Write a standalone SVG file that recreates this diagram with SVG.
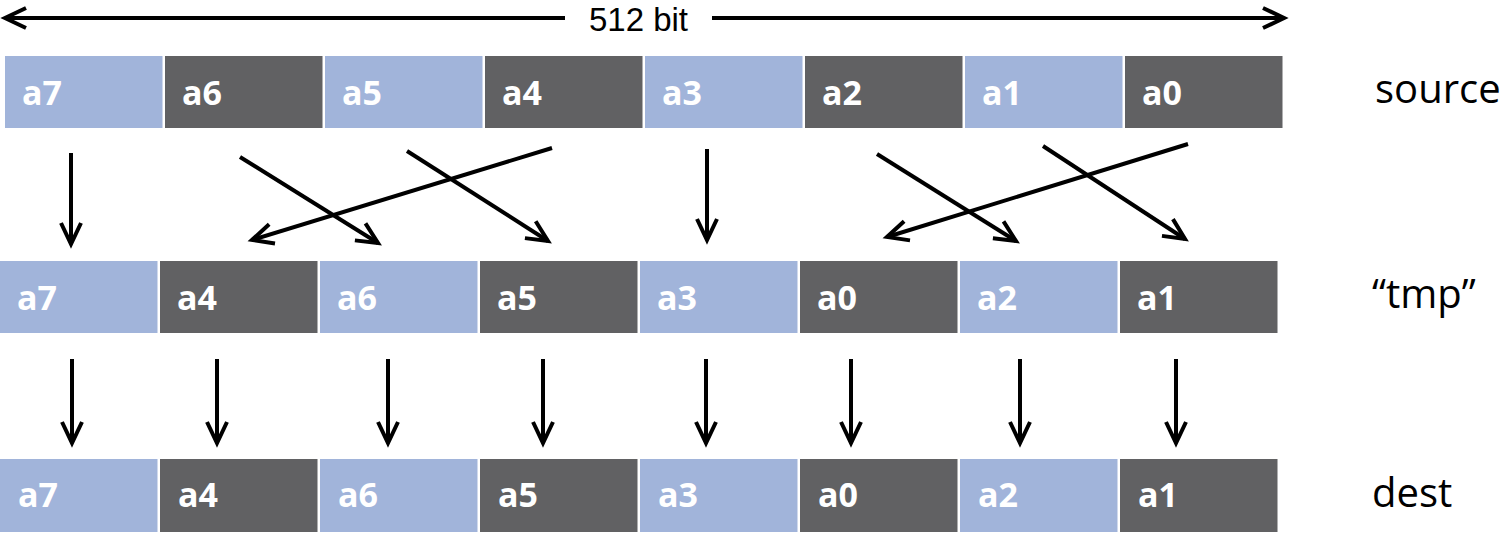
<svg xmlns="http://www.w3.org/2000/svg" width="1505" height="533" viewBox="0 0 1505 533">
  <style>
    .lt { fill: #A1B4DA; }
    .dk { fill: #616163; }
    .cell-label { font-family: "Open Sans", "Liberation Sans", sans-serif; font-weight: bold; font-size: 34px; fill: #FFFFFF; }
    .row-label { font-family: "Open Sans", "Liberation Sans", sans-serif; font-size: 40px; fill: #000000; }
    .width-label { font-family: "Liberation Sans", "Open Sans", sans-serif; font-size: 33px; fill: #000000; }
    .conn line { stroke: #000000; stroke-width: 4; fill: none; marker-end: url(#ah); }
  </style>
  <defs>
    <!-- open chevron arrowhead -->
    <marker id="ah" markerUnits="userSpaceOnUse" viewBox="-25 -13 28 26" markerWidth="28" markerHeight="26" refX="0" refY="0" orient="auto" overflow="visible">
      <path d="M-21,-10 L0,0 L-21,10" fill="none" stroke="#000000" stroke-width="4" stroke-linejoin="miter"/>
    </marker>
  </defs>

  <rect x="0" y="0" width="1505" height="533" fill="#FFFFFF"/>

  <!-- register width indicator -->
  <g id="width-indicator" class="conn">
    <line x1="565" y1="18" x2="5" y2="18"/>
    <line x1="712" y1="18" x2="1284" y2="18"/>
    <text class="width-label" x="638.5" y="30.5" text-anchor="middle">512 bit</text>
  </g>

  <!-- source register -->
  <g id="source">
    <g id="src-a7"><rect class="lt" x="5" y="56" width="157.5" height="72"/><text class="cell-label" x="22" y="105">a7</text></g>
    <g id="src-a6"><rect class="dk" x="165" y="56" width="157.5" height="72"/><text class="cell-label" x="182" y="105">a6</text></g>
    <g id="src-a5"><rect class="lt" x="325" y="56" width="157.5" height="72"/><text class="cell-label" x="342" y="105">a5</text></g>
    <g id="src-a4"><rect class="dk" x="485" y="56" width="157.5" height="72"/><text class="cell-label" x="502" y="105">a4</text></g>
    <g id="src-a3"><rect class="lt" x="645" y="56" width="157.5" height="72"/><text class="cell-label" x="662" y="105">a3</text></g>
    <g id="src-a2"><rect class="dk" x="805" y="56" width="157.5" height="72"/><text class="cell-label" x="822" y="105">a2</text></g>
    <g id="src-a1"><rect class="lt" x="965" y="56" width="157.5" height="72"/><text class="cell-label" x="982" y="105">a1</text></g>
    <g id="src-a0"><rect class="dk" x="1125" y="56" width="157.5" height="72"/><text class="cell-label" x="1142" y="105">a0</text></g>
    <text class="row-label" x="1375" y="103">source</text>
  </g>

  <!-- tmp register -->
  <g id="tmp">
    <g id="tmp-a7"><rect class="lt" x="0" y="261" width="157.5" height="72"/><text class="cell-label" x="17" y="310">a7</text></g>
    <g id="tmp-a4"><rect class="dk" x="160" y="261" width="157.5" height="72"/><text class="cell-label" x="177" y="310">a4</text></g>
    <g id="tmp-a6"><rect class="lt" x="320" y="261" width="157.5" height="72"/><text class="cell-label" x="337" y="310">a6</text></g>
    <g id="tmp-a5"><rect class="dk" x="480" y="261" width="157.5" height="72"/><text class="cell-label" x="497" y="310">a5</text></g>
    <g id="tmp-a3"><rect class="lt" x="640" y="261" width="157.5" height="72"/><text class="cell-label" x="657" y="310">a3</text></g>
    <g id="tmp-a0"><rect class="dk" x="800" y="261" width="157.5" height="72"/><text class="cell-label" x="817" y="310">a0</text></g>
    <g id="tmp-a2"><rect class="lt" x="960" y="261" width="157.5" height="72"/><text class="cell-label" x="977" y="310">a2</text></g>
    <g id="tmp-a1"><rect class="dk" x="1120" y="261" width="157.5" height="72"/><text class="cell-label" x="1137" y="310">a1</text></g>
    <text class="row-label" x="1372" y="308">“tmp”</text>
  </g>

  <!-- dest register -->
  <g id="dest">
    <g id="dst-a7"><rect class="lt" x="0" y="459" width="157.5" height="73"/><text class="cell-label" x="18" y="507">a7</text></g>
    <g id="dst-a4"><rect class="dk" x="160" y="459" width="157.5" height="73"/><text class="cell-label" x="178" y="507">a4</text></g>
    <g id="dst-a6"><rect class="lt" x="320" y="459" width="157.5" height="73"/><text class="cell-label" x="338" y="507">a6</text></g>
    <g id="dst-a5"><rect class="dk" x="480" y="459" width="157.5" height="73"/><text class="cell-label" x="498" y="507">a5</text></g>
    <g id="dst-a3"><rect class="lt" x="640" y="459" width="157.5" height="73"/><text class="cell-label" x="658" y="507">a3</text></g>
    <g id="dst-a0"><rect class="dk" x="800" y="459" width="157.5" height="73"/><text class="cell-label" x="818" y="507">a0</text></g>
    <g id="dst-a2"><rect class="lt" x="960" y="459" width="157.5" height="73"/><text class="cell-label" x="978" y="507">a2</text></g>
    <g id="dst-a1"><rect class="dk" x="1120" y="459" width="157.5" height="73"/><text class="cell-label" x="1138" y="507">a1</text></g>
    <text class="row-label" x="1372" y="507">dest</text>
  </g>

  <!-- connectors: source to tmp (lane shuffle) -->
  <g id="connectors" class="conn">
    <line x1="71" y1="153" x2="71" y2="244"/>
    <line x1="240" y1="157" x2="378" y2="243"/>
    <line x1="407" y1="151" x2="548" y2="241"/>
    <line x1="552" y1="148" x2="252" y2="240"/>
    <line x1="707" y1="149" x2="707" y2="240"/>
    <line x1="877" y1="154" x2="1016" y2="241"/>
    <line x1="1043" y1="146" x2="1185" y2="239"/>
    <line x1="1188" y1="144" x2="887" y2="237"/>

    <!-- tmp to dest (straight copy) -->
    <line x1="72" y1="359" x2="72" y2="443"/>
    <line x1="217" y1="359" x2="217" y2="443"/>
    <line x1="388" y1="359" x2="388" y2="443"/>
    <line x1="543" y1="359" x2="543" y2="443"/>
    <line x1="706" y1="359" x2="706" y2="443"/>
    <line x1="851" y1="359" x2="851" y2="443"/>
    <line x1="1020" y1="359" x2="1020" y2="443"/>
    <line x1="1176" y1="359" x2="1176" y2="443"/>
  </g>
</svg>
